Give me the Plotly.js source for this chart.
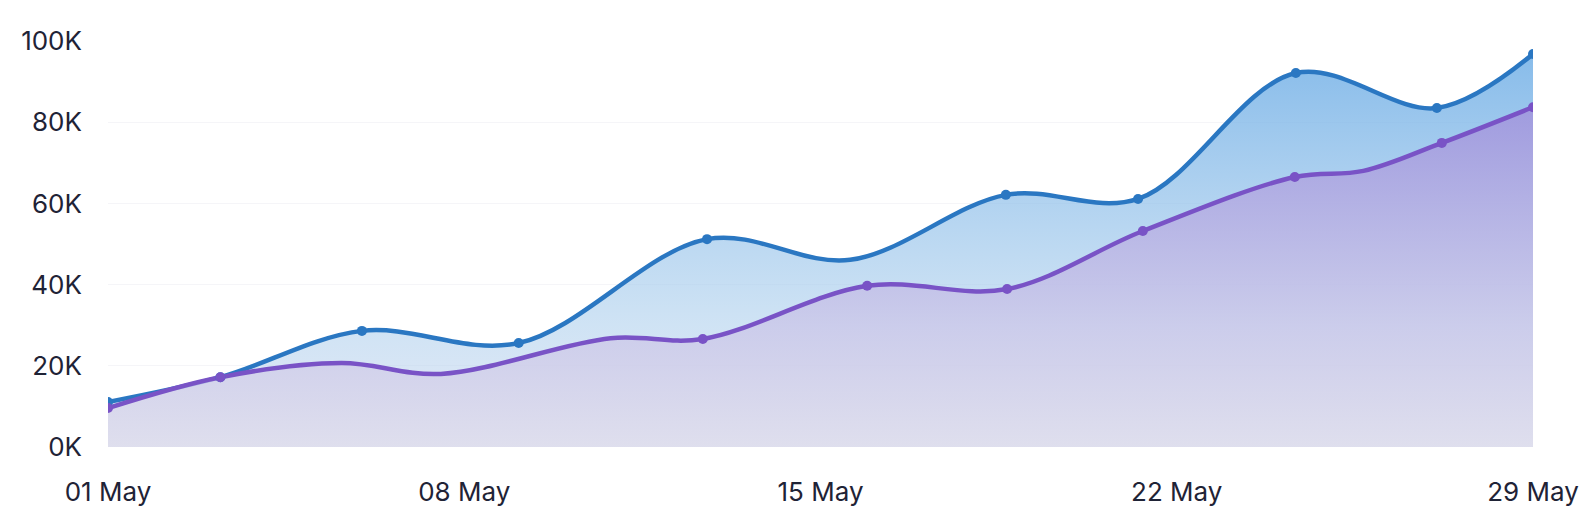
<!DOCTYPE html>
<html>
<head>
<meta charset="utf-8">
<script src="https://cdn.plot.ly/plotly-3.0.1.min.js"></script>
<style>html,body{margin:0;padding:0;background:#fff;}#chart{width:1583px;height:516px;}</style>
</head>
<body>
<div id="chart"></div>
<script>
// Blue series (line shape incl. unmarked turning point)
const blueDates  = ['2024-05-01 00:00','2024-05-03 05:00','2024-05-05 23:45','2024-05-09 01:40','2024-05-12 18:30','2024-05-15 14:00','2024-05-18 15:25','2024-05-21 05:45','2024-05-24 08:10','2024-05-27 02:40','2024-05-29 00:00'];
const blueValues = [11100, 17200, 28600, 25600, 51200, 46100, 62100, 61100, 92100, 83500, 96800];
// Blue marked points
const blueMarkDates  = ['2024-05-01 00:00','2024-05-03 05:00','2024-05-05 23:45','2024-05-09 01:40','2024-05-12 18:30','2024-05-18 15:25','2024-05-21 05:45','2024-05-24 08:10','2024-05-27 02:40','2024-05-29 00:00'];
const blueMarkValues = [11100, 17200, 28600, 25600, 51200, 62100, 61100, 92100, 83500, 96800];

// Purple series
const purpleDates  = ['2024-05-01 00:00','2024-05-03 05:00','2024-05-05 14:00','2024-05-07 13:00','2024-05-10 21:00','2024-05-12 16:30','2024-05-15 22:00','2024-05-18 16:00','2024-05-21 08:00','2024-05-24 07:40','2024-05-25 16:00','2024-05-27 05:00','2024-05-29 00:00'];
const purpleValues = [9600, 17200, 20700, 18000, 26800, 26600, 39700, 38900, 53200, 66500, 68000, 74900, 83700];
const purpleMarkDates  = ['2024-05-01 00:00','2024-05-03 05:00','2024-05-12 16:30','2024-05-15 22:00','2024-05-18 16:00','2024-05-21 08:00','2024-05-24 07:40','2024-05-27 05:00','2024-05-29 00:00'];
const purpleMarkValues = [9600, 17200, 26600, 39700, 38900, 53200, 66500, 74900, 83700];

const xTickDates = ['2024-05-01','2024-05-08','2024-05-15','2024-05-22','2024-05-29'];
const yTickValues = [0, 20000, 40000, 60000, 80000, 100000];
const yTickLabels = ['0K','20K','40K','60K','80K','100K'];

const BLUE = '#2a77c2';
const PURPLE = '#7953c6';

const traces = [
  {
    x: blueDates, y: blueValues, type: 'scatter', mode: 'lines',
    line: {color: BLUE, width: 4.5, shape: 'spline', smoothing: 1},
    fill: 'tozeroy',
    fillgradient: {type: 'vertical', start: 0, stop: 100000,
      colorscale: [[0, 'rgba(205,215,238,0.55)'], [0.3, 'rgba(178,210,238,0.62)'], [1, 'rgba(100,168,228,0.8)']]},
    hoverinfo: 'skip', showlegend: false
  },
  {
    x: purpleDates, y: purpleValues, type: 'scatter', mode: 'lines',
    line: {color: PURPLE, width: 4.5, shape: 'spline', smoothing: 1},
    fill: 'tozeroy',
    fillgradient: {type: 'vertical', start: 0, stop: 100000,
      colorscale: [[0, 'rgba(222,221,236,0.85)'], [0.3, 'rgba(202,197,232,0.75)'], [1, 'rgba(150,128,215,0.8)']]},
    hoverinfo: 'skip', showlegend: false
  },
  {
    x: blueMarkDates, y: blueMarkValues, type: 'scatter', mode: 'markers',
    marker: {color: BLUE, size: 10}, showlegend: false
  },
  {
    x: purpleMarkDates, y: purpleMarkValues, type: 'scatter', mode: 'markers',
    marker: {color: PURPLE, size: 10}, showlegend: false
  }
];

const layout = {
  width: 1583, height: 516,
  margin: {l: 108, r: 50, t: 41, b: 69},
  paper_bgcolor: '#ffffff', plot_bgcolor: '#ffffff',
  font: {family: 'Inter, "Open Sans", sans-serif', color: '#1f2336', size: 26},
  xaxis: {
    type: 'date', range: ['2024-05-01', '2024-05-29'],
    tickvals: xTickDates, tickformat: '%d %b',
    showgrid: false, zeroline: false, showline: false,
    ticks: '', ticklabelstandoff: 27,
    tickfont: {size: 26, color: '#1f2336'}
  },
  yaxis: {
    range: [0, 100000], tickvals: yTickValues, ticktext: yTickLabels,
    showgrid: true, gridcolor: 'rgba(120,120,150,0.07)', gridwidth: 1,
    zeroline: false, showline: false, ticks: '', ticklabelstandoff: 25,
    tickfont: {size: 26, color: '#1f2336'}
  },
  hovermode: false
};

Plotly.newPlot('chart', traces, layout, {displayModeBar: false, staticPlot: true});
</script>
</body>
</html>
